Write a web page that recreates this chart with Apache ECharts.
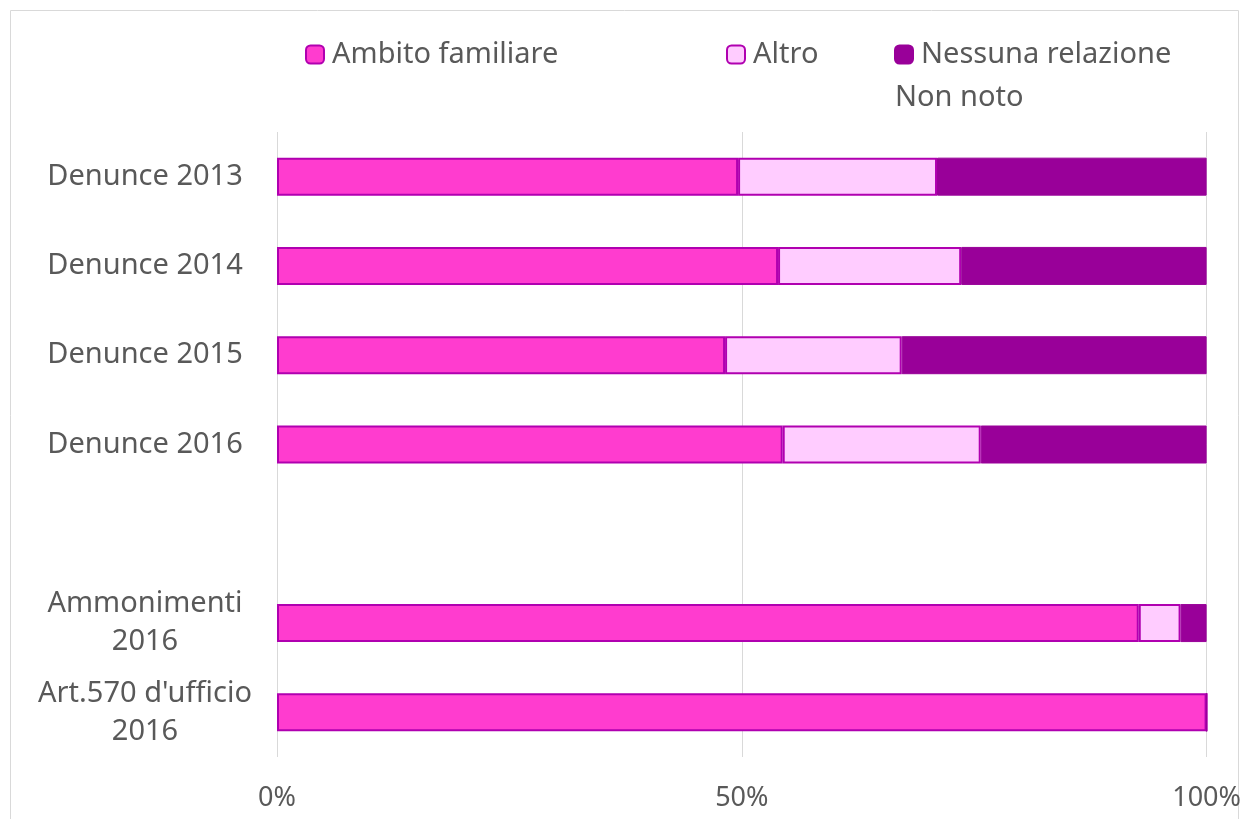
<!DOCTYPE html>
<html><head><meta charset="utf-8">
<script src="https://cdn.jsdelivr.net/npm/echarts@6/dist/echarts.min.js"></script>
<style>html,body{margin:0;padding:0;background:#fff}#c{width:1244px;height:819px}</style>
</head><body><div id="c"></div>
<script>
const categories = ['Denunce 2013','Denunce 2014','Denunce 2015','Denunce 2016','','Ammonimenti\n2016',"Art.570 d'ufficio\n2016"];
const ambitoFamiliare = [49.6, 53.9, 48.2, 54.4, null, 92.7, 100];
const altro = [21.4, 19.7, 19.0, 21.3, null, 4.5, 0];
const nessunaRelazione = [29.0, 26.4, 32.8, 24.3, null, 2.8, 0];
const nonNoto = [0, 0, 0, 0, null, 0, 0];
const xTicks = [0, 50, 100];

const font = 'Noto Sans';
const txt = '#595959';
const chart = echarts.init(document.getElementById('c'));
const legendBase = {orient:'horizontal', itemWidth:18, itemHeight:18, itemGap:10,
  textStyle:{color:txt, fontSize:29, fontFamily:font, padding:[0,0,0,3]}};
chart.setOption({
  animation:false,
  graphic:[{type:'rect', shape:{x:10.5,y:10.5,width:1228,height:820}, style:{fill:'none', stroke:'#D9D9D9', lineWidth:1}, silent:true}],
  legend:[
    Object.assign({}, legendBase, {data:['Ambito familiare'], left:300, top:35}),
    Object.assign({}, legendBase, {data:['Altro'], left:721, top:35}),
    Object.assign({}, legendBase, {data:['Nessuna relazione'], left:889, top:35}),
    Object.assign({}, legendBase, {data:[{name:'Non noto', icon:'rect', itemStyle:{color:'rgba(0,0,0,0)', borderWidth:0}}], left:882, top:78, itemWidth:0})
  ],
  grid:{left:277, right:35, top:132, bottom:62, containLabel:false},
  xAxis:{type:'value', min:0, max:100, interval:50,
    axisLine:{show:false}, axisTick:{show:false},
    splitLine:{show:true, lineStyle:{color:'#D9D9D9', width:1}},
    axisLabel:{color:txt, fontSize:27, fontFamily:font, margin:28,
      formatter:v => xTicks.includes(v) ? v + '%' : ''}},
  yAxis:{type:'category', inverse:true, data:categories,
    axisLine:{show:false}, axisTick:{show:false},
    axisLabel:{color:txt, fontSize:29, fontFamily:font, align:'center', margin:132, lineHeight:38}},
  series:[
    {name:'Ambito familiare', type:'bar', stack:'t', barWidth:38, data:ambitoFamiliare,
      itemStyle:{color:'#FF3CCF', borderColor:'#B000B0', borderWidth:2}},
    {name:'Altro', type:'bar', stack:'t', barWidth:38, data:altro,
      itemStyle:{color:'#FFCCFF', borderColor:'#B000B0', borderWidth:2}},
    {name:'Nessuna relazione', type:'bar', stack:'t', barWidth:38, data:nessunaRelazione,
      itemStyle:{color:'#990099', borderColor:'#990099', borderWidth:1}},
    {name:'Non noto', type:'bar', stack:'t', barWidth:38, data:nonNoto,
      itemStyle:{color:'rgba(0,0,0,0)', borderWidth:0}}
  ]
});
</script></body></html>
